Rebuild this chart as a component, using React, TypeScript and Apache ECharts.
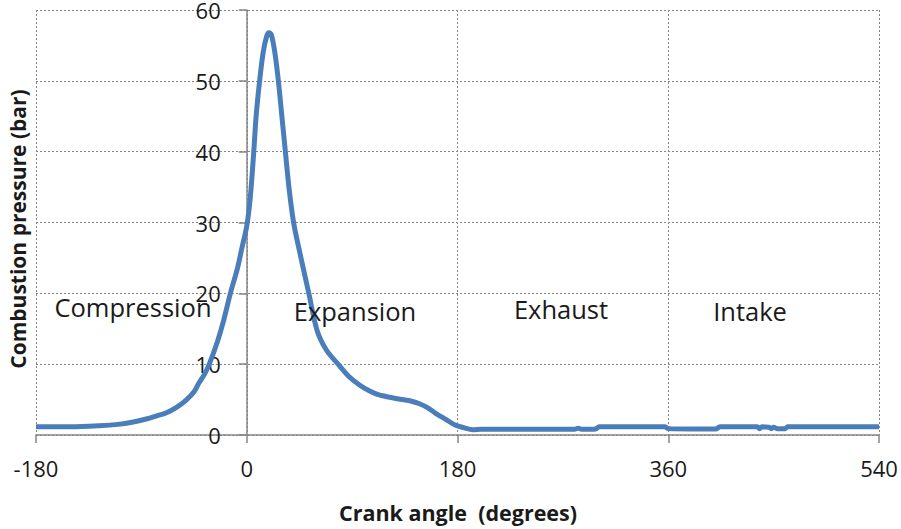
import React, { useEffect, useRef } from "react";
import * as echarts from "echarts";

const angles = [
  -180, -150, -126, -110, -98, -85, -75, -69, -60, -52, -45, -41, -36, -32, -25, -20, -14, -8, -4, 0,
  3, 6, 8, 11, 14, 17, 19, 21, 24, 27, 30, 33, 36, 40, 45, 53, 60, 68, 78, 87, 96, 105, 113, 123,
  133, 140, 147, 154, 161, 170, 178, 186, 193, 200, 240, 280, 283, 286, 298, 301, 330, 357, 360,
  380, 401, 404, 436, 438, 440, 446, 448, 450, 453, 460, 462, 500, 540,
];
const pressures = [
  1.15, 1.15, 1.3, 1.5, 1.8, 2.3, 2.8, 3.1, 3.9, 4.9, 6.1, 7.3, 8.6, 10.0, 13.2, 16.0, 20.0, 23.5, 26.5, 29.5,
  33.5, 40, 45, 50, 54, 56.3, 56.8, 56.5, 54, 50, 45, 40, 35, 30, 26, 20, 14.8, 12, 10, 8.3, 7.1, 6.2, 5.65, 5.3,
  5.0, 4.8, 4.45, 3.9, 3.1, 2.2, 1.4, 1.0, 0.75, 0.8, 0.8, 0.8, 0.95, 0.8, 0.85, 1.15, 1.15, 1.15, 0.9,
  0.85, 0.85, 1.15, 1.15, 0.9, 1.15, 1.1, 0.9, 1.1, 0.9, 0.9, 1.15, 1.15, 1.15,
];
const xTicks = { min: -180, max: 540, interval: 180 };
const yTicks = { min: 0, max: 60, interval: 10 };
const phaseLabels = ["Compression", "Expansion", "Exhaust", "Intake"];
const xTitle = "Crank angle  (degrees)";
const yTitle = "Combustion pressure (bar)";

const FONT = "'Open Sans', 'Noto Sans', sans-serif";
const GRAY = "#868686";
const W = 901;
const H = 529;
const GRID = { left: 36, right: 22, top: 10, bottom: 94 };

export default function App() {
  const ref = useRef<HTMLDivElement>(null);
  useEffect(() => {
    if (!ref.current) return;
    const chart = echarts.init(ref.current, null, { renderer: "svg" });
    const data = angles.map((a, i) => [a, pressures[i]]);
    const plotW = W - GRID.left - GRID.right;
    const yAxisOffset = -((0 - xTicks.min) / (xTicks.max - xTicks.min)) * plotW;
    const phasePos = [
      [133, 307],
      [355, 311],
      [561, 309],
      [750, 311],
    ];
    chart.setOption({
      animation: false,
      backgroundColor: "#ffffff",
      grid: { ...GRID, containLabel: false, outerBoundsMode: "none" },
      xAxis: {
        type: "value",
        min: xTicks.min,
        max: xTicks.max,
        interval: xTicks.interval,
        axisLine: { show: true, onZero: false, lineStyle: { color: GRAY, width: 1.5 } },
        axisTick: { show: true, inside: false, length: 8, lineStyle: { color: GRAY, width: 1.5 } },
        axisLabel: { color: "#1a1a1a", fontSize: 22, fontFamily: FONT, margin: 22 },
        splitLine: { show: true, lineStyle: { color: GRAY, type: [2, 2], width: 1 } },
      },
      yAxis: {
        type: "value",
        min: yTicks.min,
        max: yTicks.max,
        interval: yTicks.interval,
        position: "left",
        offset: yAxisOffset,
        axisLine: { show: true, onZero: false, lineStyle: { color: GRAY, width: 1.5 } },
        axisTick: { show: true, inside: false, length: 8, lineStyle: { color: GRAY, width: 1.5 } },
        axisLabel: { color: "#1a1a1a", fontSize: 22, fontFamily: FONT, margin: 26 },
        splitLine: { show: true, lineStyle: { color: GRAY, type: [2, 2], width: 1 } },
      },
      series: [
        {
          type: "line",
          data,
          smooth: 0.3,
          showSymbol: false,
          lineStyle: { color: "#4A7EBB", width: 5 },
          z: 3,
        },
      ],
      graphic: [
        ...phaseLabels.map((t, i) => ({
          type: "text",
          x: phasePos[i][0],
          y: phasePos[i][1],
          z: 10,
          style: {
            text: t,
            fontSize: 25.5,
            fontFamily: FONT,
            fill: "#1a1a1a",
            textAlign: "center",
            textVerticalAlign: "middle",
          },
        })),
        {
          type: "text",
          x: 458,
          y: 512,
          style: {
            text: xTitle,
            fontSize: 21.5,
            fontWeight: "bold",
            fontFamily: FONT,
            fill: "#1a1a1a",
            textAlign: "center",
            textVerticalAlign: "middle",
          },
        },
        {
          type: "text",
          x: 18,
          y: 229,
          rotation: Math.PI / 2,
          style: {
            text: yTitle,
            fontSize: 21,
            fontWeight: "bold",
            fontFamily: FONT,
            fill: "#1a1a1a",
            textAlign: "center",
            textVerticalAlign: "middle",
          },
        },
      ],
    });
    return () => chart.dispose();
  }, []);
  return (
    <div
      ref={ref}
      style={{ position: "absolute", left: 0, top: 0, width: W, height: H }}
    />
  );
}
